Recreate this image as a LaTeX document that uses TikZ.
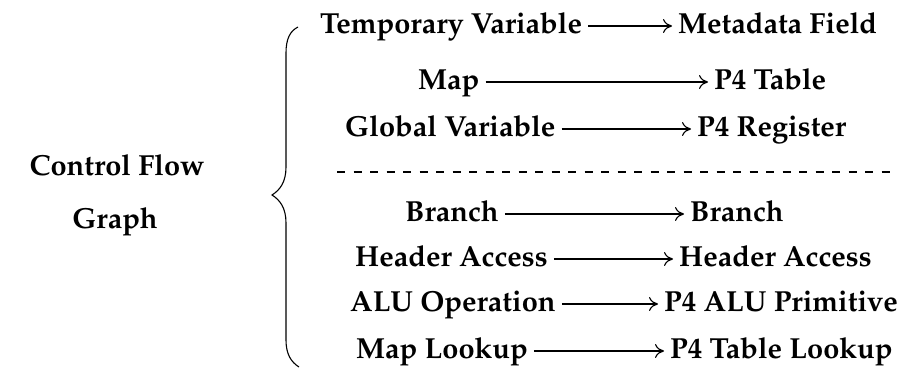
\documentclass[tikz,border=0pt]{standalone}
\usepackage[T1]{fontenc}
\usepackage{mathpazo}
\usetikzlibrary{arrows.meta}
\tikzset{
  lbl/.style={font=\fontsize{29}{31}\selectfont\bfseries, inner sep=0pt, anchor=base west},
  ttl/.style={font=\fontsize{29}{31}\selectfont\bfseries, inner sep=0pt, anchor=base},
  conn/.style={-{Computer Modern Rightarrow[length=9pt,width=14pt]}, line width=1.15pt},
  sep/.style={line width=1.1pt, dash pattern=on 8pt off 8.5pt},
  bracepath/.style={line width=1.1pt}
}
\begin{document}
\begin{tikzpicture}[x=1pt,y=-1pt]
\useasboundingbox (0,0) rectangle (898,379);
% title
\node[ttl] (t1) at (117,176) {Control Flow};
\node[ttl] (t2) at (115,229) {Graph};
% brace
\draw[bracepath] (298,27) .. controls (290,31) and (286,39) .. (286,53)
  -- (286,167) .. controls (286,182) and (280,190) .. (272,195)
  .. controls (280,200) and (286,208) .. (286,223)
  -- (286,340) .. controls (286,354) and (291,362) .. (299,367);
% rows
\node[lbl] (a1) at (320,34) {Temporary Variable};
\node[lbl] (b1) at (678,34) {Metadata Field};
\node[lbl] (a2) at (418,90) {Map};
\node[lbl] (b2) at (714,90) {P4 Table};
\node[lbl] (a3) at (345,137) {Global Variable};
\node[lbl] (b3) at (697,137) {P4 Register};
\node[lbl] (a4) at (405,222) {Branch};
\node[lbl] (b4) at (690,222) {Branch};
\node[lbl] (a5) at (355,267) {Header Access};
\node[lbl] (b5) at (679,267) {Header Access};
\node[lbl] (a6) at (350,312) {ALU Operation};
\node[lbl] (b6) at (664,312) {P4 ALU Primitive};
\node[lbl] (a7) at (356,359) {Map Lookup};
\node[lbl] (b7) at (670,359) {P4 Table Lookup};
\foreach \i in {1,...,7}{
  \draw[conn] ([xshift=6pt,yshift=8pt]a\i.base east) -- ([xshift=-6pt,yshift=8pt]b\i.base west);
}
% separator
\coordinate (s1) at (337,172);
\coordinate (s2) at (898,172);
\draw[sep] (s1) -- (s2);
\end{tikzpicture}
\end{document}
